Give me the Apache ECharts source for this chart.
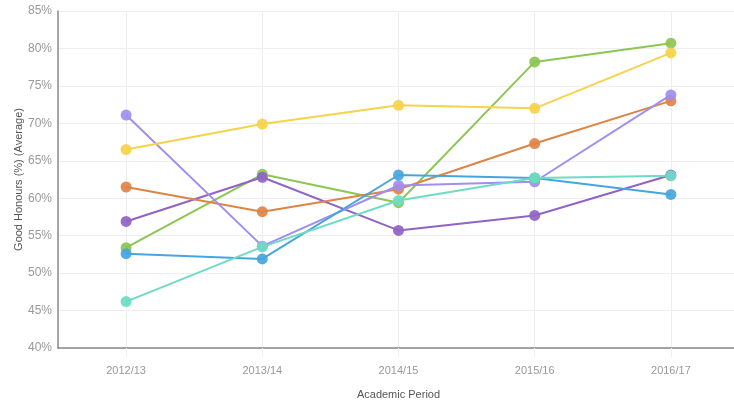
<!DOCTYPE html>
<html>
<head>
<meta charset="utf-8">
<script src="https://cdn.jsdelivr.net/npm/echarts@6/dist/echarts.min.js"></script>
<style>html,body{margin:0;padding:0;background:#fff}#c{width:734px;height:406px}</style>
</head>
<body>
<div id="c"></div>
<script>
var categories = ['2012/13', '2013/14', '2014/15', '2015/16', '2016/17'];
var greenVals = [53.4, 63.2, 59.4, 78.2, 80.7];
var darkPurpleVals = [56.9, 62.8, 55.7, 57.7, 63.1];
var orangeVals = [61.5, 58.2, 61.2, 67.3, 73.0];
var lavenderVals = [71.1, 53.6, 61.7, 62.2, 73.8];
var yellowVals = [66.5, 69.9, 72.4, 72.0, 79.4];
var blueVals = [52.6, 51.9, 63.1, 62.7, 60.5];
var tealVals = [46.2, 53.5, 59.7, 62.7, 63.0];

var seriesDefs = [
  {vals: greenVals, color: '#8cc653'},
  {vals: darkPurpleVals, color: '#9063c6'},
  {vals: orangeVals, color: '#dd8446'},
  {vals: lavenderVals, color: '#a08ef0'},
  {vals: yellowVals, color: '#f5d34a'},
  {vals: blueVals, color: '#45a6de'},
  {vals: tealVals, color: '#6edcc5'}
];

// half-band helper axis so vertical grid lines fall on category centres
var halfCats = [];
categories.forEach(function (c) { halfCats.push(c + ' a'); halfCats.push(c + ' b'); });

var series = [];
seriesDefs.forEach(function (s) {
  series.push({
    type: 'line', data: s.vals, xAxisIndex: 0, z: 3,
    symbol: 'circle', symbolSize: 11,
    lineStyle: {color: s.color, width: 2},
    itemStyle: {color: s.color, opacity: 0.92},
    emphasis: {disabled: true},
    animation: false
  });
});

var chart = echarts.init(document.getElementById('c'));
chart.setOption({
  animation: false,
  grid: {left: 58, top: 11, right: -5, bottom: 58, outerBoundsMode: 'none', containLabel: false},
  xAxis: [{
    type: 'category', data: categories, boundaryGap: true,
    name: 'Academic Period', nameLocation: 'middle', nameGap: 41, nameMoveOverlap: false,
    nameTextStyle: {color: '#555', fontSize: 11, fontFamily: 'Liberation Sans'},
    axisLine: {lineStyle: {color: '#888', width: 1.5}},
    axisTick: {show: true, alignWithLabel: true, length: 9, lineStyle: {color: '#eeeeee'}},
    axisLabel: {color: '#999', fontSize: 11, margin: 17, fontFamily: 'Liberation Sans'},
    splitLine: {show: false}, z: 2
  }, {
    type: 'category', data: halfCats, boundaryGap: true, position: 'bottom',
    axisLine: {show: false}, axisTick: {show: false}, axisLabel: {show: false},
    splitLine: {show: true, interval: function (i) { return i % 2 === 1; }, lineStyle: {color: '#eeeeee', width: 1}}
  }],
  yAxis: {
    type: 'value', min: 40, max: 85, interval: 5,
    name: 'Good Honours (%) (Average)', nameLocation: 'middle', nameGap: 34, nameMoveOverlap: false,
    nameTextStyle: {color: '#555', fontSize: 11, fontFamily: 'Liberation Sans'},
    axisLine: {show: true, lineStyle: {color: '#888', width: 1.5}},
    axisTick: {show: false},
    axisLabel: {color: '#999', fontSize: 12, margin: 6, formatter: '{value}%', fontFamily: 'Liberation Sans'},
    splitLine: {lineStyle: {color: '#eeeeee', width: 1}}
  },
  series: series
});
</script>
</body>
</html>
